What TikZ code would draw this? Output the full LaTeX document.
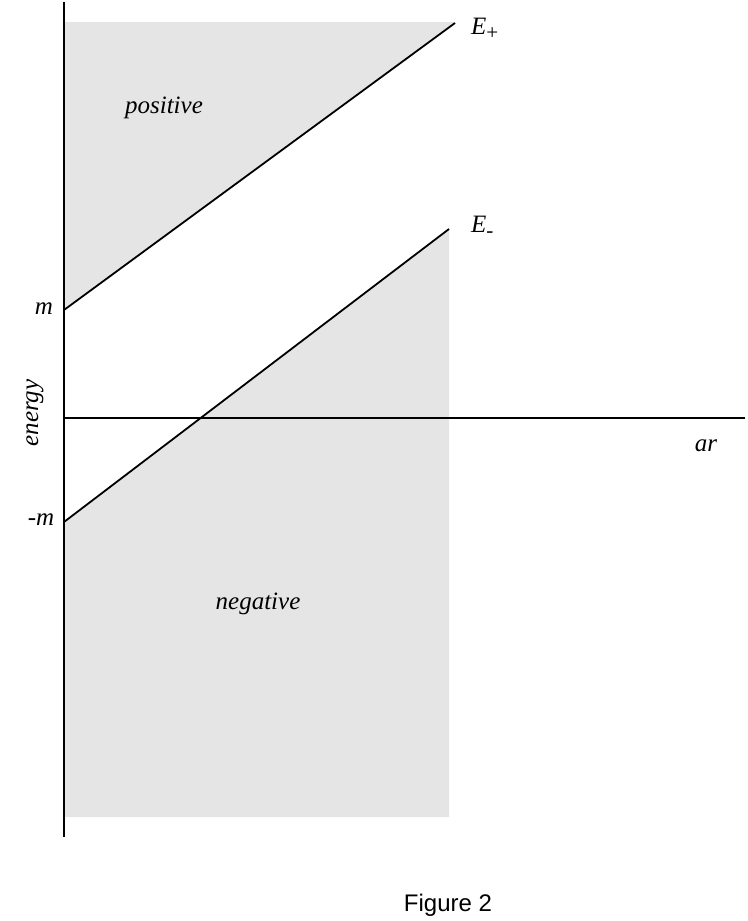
\documentclass[tikz,border=0pt]{standalone}
\usepackage{fontspec}
\setmainfont{Liberation Serif}
\newfontfamily\figfont{Liberation Sans}
\newcommand{\lowsub}[1]{\raisebox{-5pt}{\fontsize{21}{23}\selectfont\upshape #1}}
\begin{document}
\begin{tikzpicture}[x=1pt,y=-1pt,
  axis/.style={line width=1.8pt,black},
  band/.style={line width=1.8pt,black},
  region/.style={fill=black!10,draw=none},
  lbl/.style={font=\fontsize{25}{29}\selectfont\itshape,inner sep=0pt},
  figcaption/.style={font=\figfont\fontsize{24}{28}\selectfont,inner sep=0pt}]
\useasboundingbox (0,0) rectangle (747,921);
% shaded regions
\fill[region] (64,22) -- (455,22) -- (64,310) -- cycle;
\fill[region] (64,522) -- (449,229) -- (449,817) -- (64,817) -- cycle;
% axes
\coordinate (ytop) at (64,2);
\coordinate (ybot) at (64,837);
\coordinate (xl) at (64,418);
\coordinate (xr) at (745,418);
\draw[axis] (ytop) -- (ybot);
\draw[axis] (xl) -- (xr);
% lines
\coordinate (ep0) at (64,310);
\coordinate (ep1) at (455,23);
\coordinate (em0) at (64,522);
\coordinate (em1) at (449,229);
\draw[band] (ep0) -- (ep1);
\draw[band] (em0) -- (em1);
% labels
\node[lbl,anchor=west] (Ep) at (471,29) {E\lowsub{+}};
\node[lbl,anchor=west] (Em) at (471,227) {E\lowsub{-}};
\node[lbl] (m) at (44,309) {m};
\node[lbl] (mm) at (41,520) {-m};
\node[lbl,rotate=90] (en) at (35,413) {energy};
\node[lbl] (ar) at (706,446) {ar};
\node[lbl] (pos) at (164,108) {positive};
\node[lbl] (neg) at (258,604) {negative};
\node[figcaption] (fig) at (448,905) {Figure 2};
\end{tikzpicture}
\end{document}
